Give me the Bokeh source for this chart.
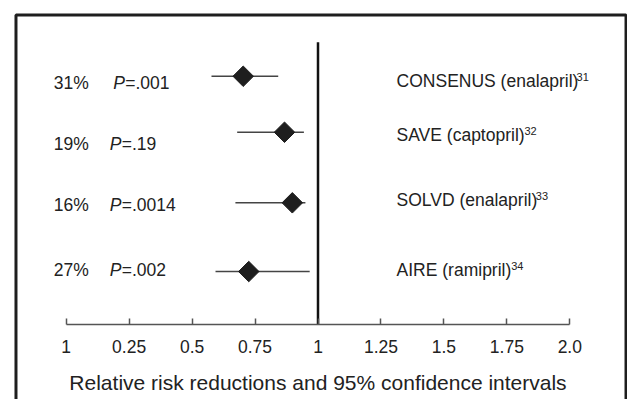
import math
from bokeh.plotting import figure
from bokeh.models import Range1d, LinearAxis, FixedTicker, BoxAnnotation
from bokeh.core.properties import value
from bokeh.embed import file_html
from bokeh.resources import INLINE

# ---- data ----
studies = ["CONSENUS (enalapril)", "SAVE (captopril)", "SOLVD (enalapril)", "AIRE (ramipril)"]
refs = ["31", "32", "33", "34"]
reductions = ["31%", "19%", "16%", "27%"]
p_values = ["=.001", "=.19", "=.0014", "=.002"]
rel_risk = [0.703, 0.867, 0.898, 0.725]
ci_low = [0.577, 0.679, 0.672, 0.593]
ci_high = [0.842, 0.944, 0.950, 0.967]
no_effect = 1.0
tick_values = [0, 0.25, 0.5, 0.75, 1, 1.25, 1.5, 1.75, 2.0]
tick_labels = ["1", "0.25", "0.5", "0.75", "1", "1.25", "1.5", "1.75", "2.0"]
x_title = "Relative risk reductions and 95% confidence intervals"

# ---- layout (row positions in plot units; axis line at y = 0) ----
row_y = [3.551, 2.751, 1.743, 0.761]
left_text_y = [3.459, 2.588, 1.706, 0.787]
label_y = [3.48, 2.716, 1.776, 0.776]
label_x = 1.312
sup_x = [2.027, 1.820, 1.865, 1.767]
pct_x = -0.049
p_x = [0.187, 0.173, 0.173, 0.173]
ref_top = 4.037

FONT = "Liberation Sans"
INK = "#1e1e1e"

p = figure(width=627, height=399,
           x_range=Range1d(-0.2609, 2.2291), y_range=Range1d(-1.067, 4.633),
           x_axis_type=None, y_axis_type=None,
           output_backend="svg", toolbar_location=None,
           min_border_left=0, min_border_right=0, min_border_top=0, min_border_bottom=0)
p.outline_line_color = None
p.background_fill_color = "white"
p.border_fill_color = "white"

# surrounding frame (its bottom edge lies below the visible page)
p.add_layout(BoxAnnotation(left=-0.1994, right=2.2232, top=4.426, bottom=-1.6,
                           fill_color=None, fill_alpha=0,
                           line_color=INK, line_width=3, line_alpha=1))

ax = LinearAxis(ticker=FixedTicker(ticks=tick_values, minor_ticks=[]),
                bounds=(0, 2), fixed_location=0,
                major_label_overrides=dict(zip(tick_values, tick_labels)),
                axis_label=x_title)
ax.axis_line_color = "#555555"
ax.axis_line_width = 1.5
ax.major_tick_line_color = "#555555"
ax.major_tick_line_width = 1.5
ax.major_tick_in = 6
ax.major_tick_out = 0
ax.minor_tick_line_color = None
ax.major_label_standoff = 15
ax.major_label_text_font = FONT
ax.major_label_text_font_size = "17.5px"
ax.major_label_text_color = "#222222"
ax.axis_label_standoff = 15
ax.axis_label_text_font = FONT
ax.axis_label_text_font_size = "21px"
ax.axis_label_text_font_style = "normal"
ax.axis_label_text_color = "#222222"
p.add_layout(ax, "below")

# no-effect line
p.segment(x0=[no_effect], y0=[0], x1=[no_effect], y1=[ref_top],
          line_color="#111111", line_width=2.5)

# confidence intervals
p.segment(x0=ci_low, y0=row_y, x1=ci_high, y1=row_y,
          line_color="#444444", line_width=1.6)

# point estimates
p.scatter(x=rel_risk, y=row_y, marker="square", size=14.5, angle=math.pi / 4,
          fill_color=INK, line_color=INK)

txt = dict(text_font=value(FONT), text_color="#222222", text_baseline="middle",
           text_align="left")

p.text(x=[pct_x] * 4, y=left_text_y, text=reductions,
       text_font_size=value("17.5px"), **txt)
p.text(x=p_x, y=left_text_y, text=["P"] * 4, text_font_style="italic",
       text_font_size=value("17.5px"), **txt)
p.text(x=p_x, y=left_text_y, text=p_values, x_offset=12,
       text_font_size=value("17.5px"), **txt)
p.text(x=[label_x] * 4, y=label_y, text=studies,
       text_font_size=value("17.5px"), **txt)
p.text(x=sup_x, y=label_y, text=refs, y_offset=-4,
       text_font_size=value("11px"), **txt)

open("out.html", "w").write(file_html(p, INLINE, title="Relative risk reductions"))
